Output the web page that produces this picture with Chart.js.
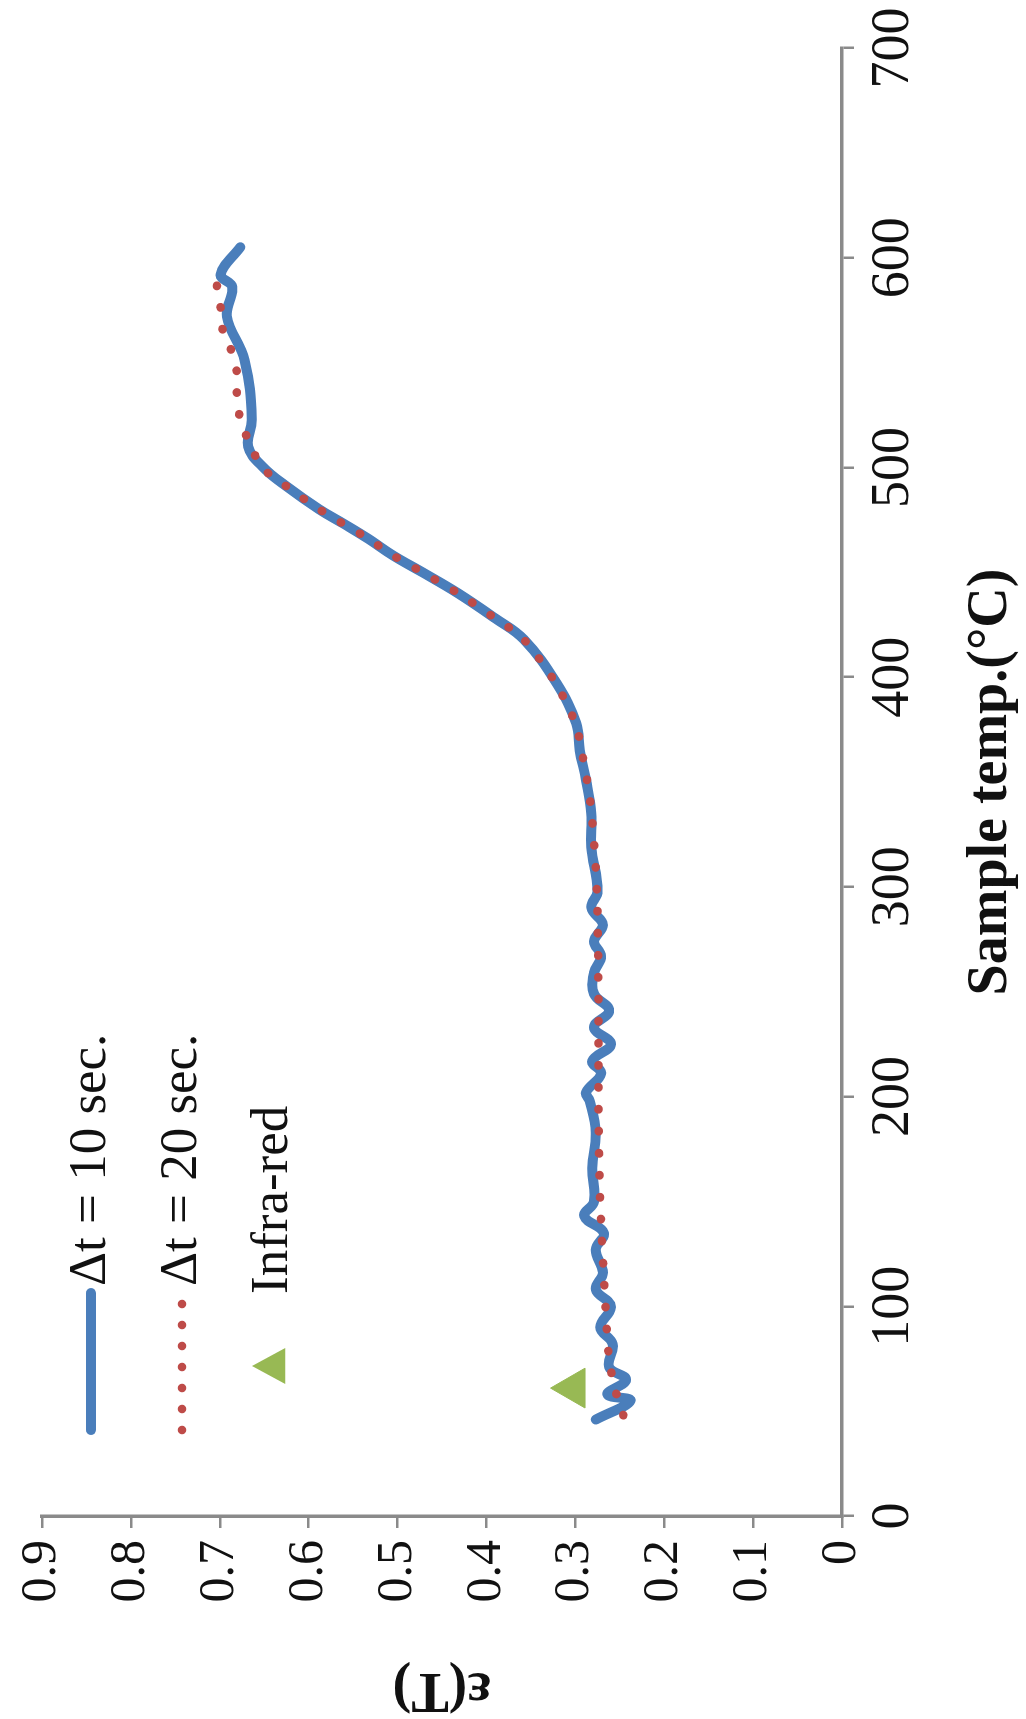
<!DOCTYPE html>
<html>
<head>
<meta charset="utf-8">
<script src="https://cdn.jsdelivr.net/npm/chart.js@4.4.1/dist/chart.umd.min.js"></script>
<style>
  html, body { margin: 0; padding: 0; background: #fff; overflow: hidden; }
  #wrap {
    position: absolute; left: 0; top: 0;
    width: 1719px; height: 1026px;
    transform-origin: 0 0;
    transform: translate(0, 1719px) rotate(-90deg);
  }
</style>
</head>
<body>
<div id="wrap"><canvas id="emis" width="1719" height="1026"></canvas></div>
<script>
// sample temperature (°C) and emissivity readings
const temp10 = [46, 55, 58, 65, 71, 82, 90, 100, 108, 116, 127, 135, 143, 150, 166, 183, 198, 202, 211, 217, 225, 233, 241, 249, 259, 267, 274, 282, 290, 298, 319, 335, 351, 365, 378, 397, 418, 428, 440, 450, 458, 466, 473, 480, 491, 500, 510, 523, 551, 572, 586, 592, 605];
const eps10 = [0.277, 0.238, 0.264, 0.243, 0.262, 0.258, 0.272, 0.260, 0.277, 0.269, 0.277, 0.268, 0.290, 0.279, 0.281, 0.277, 0.284, 0.288, 0.271, 0.281, 0.260, 0.279, 0.262, 0.279, 0.279, 0.271, 0.279, 0.269, 0.282, 0.275, 0.282, 0.282, 0.288, 0.295, 0.299, 0.321, 0.358, 0.390, 0.432, 0.472, 0.505, 0.533, 0.560, 0.588, 0.625, 0.651, 0.668, 0.664, 0.672, 0.692, 0.686, 0.699, 0.677];

const temp20 = [48, 60, 75, 100, 150, 200, 250, 300, 340, 365, 378, 397, 418, 428, 440, 450, 458, 466, 480, 491, 500, 517, 527, 537, 546, 557, 566, 576, 585, 597];
const eps20 = [0.246, 0.255, 0.262, 0.266, 0.272, 0.274, 0.274, 0.276, 0.283, 0.293, 0.300, 0.322, 0.358, 0.390, 0.432, 0.472, 0.505, 0.533, 0.588, 0.625, 0.652, 0.672, 0.679, 0.681, 0.681, 0.688, 0.697, 0.699, 0.703, 0.703];

const tempIR = [61];
const epsIR = [0.302];

const seriesNames = ['\u0394t = 10 sec.', '\u0394t = 20 sec.', 'Infra-red'];
const yTickLabels = ['0', '0.1', '0.2', '0.3', '0.4', '0.5', '0.6', '0.7', '0.8', '0.9'];

const BLUE = '#4a7ebb';
const RED = '#be4b48';
const GREEN = '#98b954';
const AXIS = '#8a8a8a';
const FONT = "'Liberation Serif', 'Times New Roman', serif";

function pts(xs, ys) {
    return xs.map((x, i) => ({x: x, y: ys[i]}));
}

// legend drawn inside the plot, top left
const legendBox = {
    id: 'legendBox',
    afterDatasetsDraw(chart) {
        const ctx = chart.ctx;
        const a = chart.chartArea;
        const x0 = a.left + 86, x1 = a.left + 223, tx = a.left + 230;
        const rows = [a.top + 49, a.top + 140, a.top + 231];
        ctx.save();
        ctx.lineCap = 'round';
        ctx.strokeStyle = BLUE;
        ctx.lineWidth = 10;
        ctx.beginPath(); ctx.moveTo(x0, rows[0]); ctx.lineTo(x1, rows[0]); ctx.stroke();
        ctx.fillStyle = RED;
        for (let x = x0; x <= x1 - 8; x += 21) {
            ctx.beginPath(); ctx.arc(x, rows[1], 4.3, 0, Math.PI * 2); ctx.fill();
        }
        ctx.fillStyle = GREEN;
        const cx = a.left + 150, cy = rows[2] - 3, r = 18;
        ctx.beginPath();
        ctx.moveTo(cx, cy - r); ctx.lineTo(cx + r, cy + r * 0.85); ctx.lineTo(cx - r, cy + r * 0.85);
        ctx.closePath(); ctx.fill();
        ctx.fillStyle = '#111';
        ctx.font = '53px ' + FONT;
        ctx.textBaseline = 'middle';
        ctx.fillText(seriesNames[0], tx, rows[0]);
        ctx.fillText(seriesNames[1], tx, rows[1]);
        ctx.fillText(seriesNames[2], tx - 8, rows[2]);
        ctx.restore();
    }
};

new Chart(document.getElementById('emis'), {
    type: 'line',
    data: {
        datasets: [{
            label: seriesNames[0],
            data: pts(temp10, eps10),
            borderColor: BLUE,
            borderWidth: 10,
            borderCapStyle: 'round',
            borderJoinStyle: 'round',
            tension: 0.4,
            pointRadius: 0,
            order: 2
        }, {
            label: seriesNames[1],
            data: pts(temp20, eps20),
            borderColor: RED,
            borderWidth: 8.5,
            borderDash: [0.5, 21.5],
            borderCapStyle: 'round',
            tension: 0.3,
            pointRadius: 0,
            order: 1
        }, {
            label: seriesNames[2],
            data: pts(tempIR, epsIR),
            showLine: false,
            pointStyle: 'triangle',
            pointRadius: 23,
            backgroundColor: GREEN,
            borderColor: GREEN,
            borderWidth: 1,
            order: 0
        }]
    },
    options: {
        responsive: false,
        devicePixelRatio: 1,
        animation: false,
        layout: { padding: { top: 33, right: 48, left: 0, bottom: 0 } },
        plugins: { legend: { display: false }, tooltip: { enabled: false } },
        scales: {
            x: {
                type: 'linear',
                min: 0, max: 700,
                afterFit: (s) => { s.height = 184; },
                border: { color: AXIS, width: 3.5 },
                grid: { drawOnChartArea: false, color: AXIS, lineWidth: 2.5, tickLength: 12 },
                ticks: { stepSize: 100, padding: 7, color: '#111', font: { family: FONT, size: 54 } },
                title: {
                    display: true, text: 'Sample temp.(\u00B0C)', color: '#111',
                    font: { family: FONT, size: 56, weight: 'bold', lineHeight: 1 },
                    padding: { top: 0, bottom: 6 }
                }
            },
            y: {
                min: 0, max: 0.9,
                afterFit: (s) => { s.width = 203; },
                border: { color: AXIS, width: 3.5 },
                grid: { drawOnChartArea: false, color: AXIS, lineWidth: 2.5, tickLength: 12 },
                ticks: {
                    stepSize: 0.1, padding: 12, color: '#111',
                    font: { family: FONT, size: 50 },
                    callback: (v) => yTickLabels[Math.round(v * 10)]
                },
                title: {
                    display: true, text: '\u03B5(T)', color: '#111',
                    font: { family: FONT, size: 56, weight: 'bold', lineHeight: 1 },
                    padding: { top: 3, bottom: 0 }
                }
            }
        }
    },
    plugins: [legendBox]
});
</script>
</body>
</html>
